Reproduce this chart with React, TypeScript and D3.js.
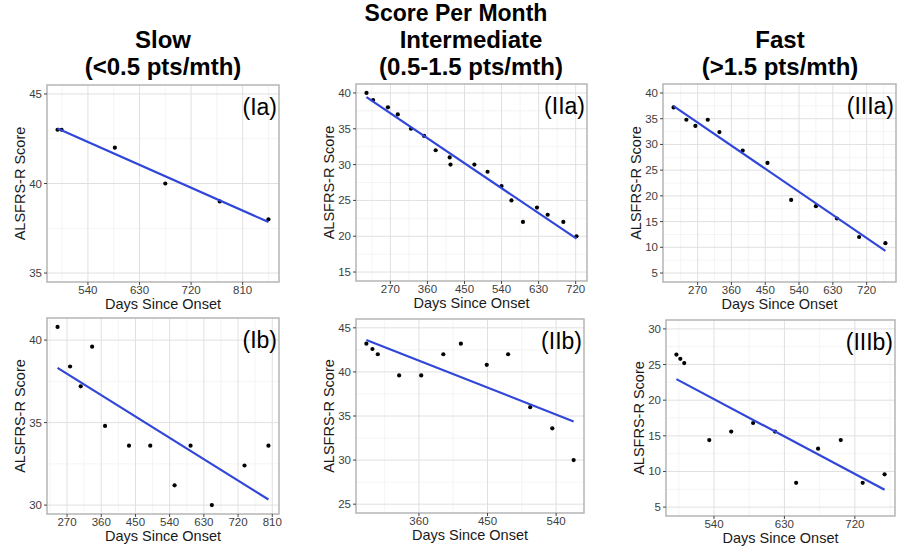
import React, { useRef, useEffect } from "react";
import * as d3 from "d3";

// (Ia) slow
const slowADays = [487, 494, 587, 675, 770, 855];
const slowAScores = [43, 43, 42, 40, 39, 38];
// (IIa) intermediate
const interADays = [212, 228, 264, 288, 320, 352, 380, 414, 416, 474, 506, 540, 564, 592, 626, 652, 690, 722];
const interAScores = [40, 39, 38, 37, 35, 34, 32, 31, 30, 30, 29, 27, 25, 22, 24, 23, 22, 20];
// (IIIa) fast
const fastADays = [206, 240, 264, 297, 328, 390, 456, 519, 585, 641, 700, 770];
const fastAScores = [37.2, 34.8, 33.6, 34.8, 32.4, 28.8, 26.4, 19.2, 18.0, 15.6, 12.0, 10.8];
// (Ib) slow
const slowBDays = [245, 278, 306, 336, 370, 433, 489, 553, 595, 651, 737, 800];
const slowBScores = [40.8, 38.4, 37.2, 39.6, 34.8, 33.6, 33.6, 31.2, 33.6, 30.0, 32.4, 33.6];
// (IIb) intermediate
const interBDays = [291, 299, 306, 334, 363, 392, 415, 449, 477, 506, 535, 563];
const interBScores = [43.2, 42.6, 42.0, 39.6, 39.6, 42.0, 43.2, 40.8, 42.0, 36.0, 33.6, 30.0];
// (IIIb) fast
const fastBDays = [492, 497, 502, 534, 562, 590, 618, 645, 673, 702, 730, 758];
const fastBScores = [26.4, 25.8, 25.2, 14.4, 15.6, 16.8, 15.6, 8.4, 13.2, 14.4, 8.4, 9.6];

// tick labels
const xTicksIa = [540, 630, 720, 810];
const xTicksIIa = [270, 360, 450, 540, 630, 720];
const xTicksIIIa = [270, 360, 450, 540, 630, 720];
const xTicksIb = [270, 360, 450, 540, 630, 720, 810];
const xTicksIIb = [360, 450, 540];
const xTicksIIIb = [540, 630, 720];
const yTicksIa = [35, 40, 45];
const yTicksIIa = [15, 20, 25, 30, 35, 40];
const yTicksIIIa = [5, 10, 15, 20, 25, 30, 35, 40];
const yTicksIb = [30, 35, 40];
const yTicksIIb = [25, 30, 35, 40, 45];
const yTicksIIIb = [5, 10, 15, 20, 25, 30];

const topTitle = "Score Per Month";
const columnTitles = [
  ["Slow", "(<0.5 pts/mth)"],
  ["Intermediate", "(0.5-1.5 pts/mth)"],
  ["Fast", "(>1.5 pts/mth)"],
];

const FONT = "'Liberation Sans', Arial, Helvetica, sans-serif";

export default function App() {
  const chartRef = useRef<SVGSVGElement>(null);

  useEffect(() => {
    draw();
  }, []);

  const draw = () => {
    const svg = d3.select(chartRef.current);
    svg.selectAll("*").remove();

    const panels = [
      { label: "(Ia)", days: slowADays, scores: slowAScores, xt: xTicksIa, yt: yTicksIa, ylim: [35, 45], box: [47, 279, 85, 282] },
      { label: "(IIa)", days: interADays, scores: interAScores, xt: xTicksIIa, yt: yTicksIIa, ylim: [15, 40], box: [356, 587, 84, 281] },
      { label: "(IIIa)", days: fastADays, scores: fastAScores, xt: xTicksIIIa, yt: yTicksIIIa, ylim: [5, 40], box: [663, 896, 84, 282] },
      { label: "(Ib)", days: slowBDays, scores: slowBScores, xt: xTicksIb, yt: yTicksIb, ylim: null, box: [47, 279, 318, 514] },
      { label: "(IIb)", days: interBDays, scores: interBScores, xt: xTicksIIb, yt: yTicksIIb, ylim: [25, 45], box: [356, 584, 319, 513] },
      { label: "(IIIb)", days: fastBDays, scores: fastBScores, xt: xTicksIIIb, yt: yTicksIIIb, ylim: [5, 30], box: [666, 895, 320, 516] },
    ];

    // headers
    const colCenters = [163, 471, 780];
    svg.append("text")
      .attr("x", 456).attr("y", 21)
      .attr("text-anchor", "middle")
      .attr("font-family", FONT).attr("font-weight", "bold").attr("font-size", 23)
      .text(topTitle);
    columnTitles.forEach((lines, i) => {
      lines.forEach((t, j) => {
        svg.append("text")
          .attr("x", colCenters[i]).attr("y", 48 + j * 27)
          .attr("text-anchor", "middle")
          .attr("font-family", FONT).attr("font-weight", "bold").attr("font-size", 24)
          .text(t);
      });
    });

    const expand = (lo: number, hi: number) => {
      const d = (hi - lo) * 0.05;
      return [lo - d, hi + d];
    };

    const minors = (ticks: number[], dom: number[]) => {
      const step = ticks[1] - ticks[0];
      const out: number[] = [];
      for (let v = ticks[0] - step / 2; v <= ticks[ticks.length - 1] + step / 2; v += step) {
        if (v >= dom[0] && v <= dom[1]) out.push(v);
      }
      return out;
    };

    panels.forEach((p) => {
      const [x0, x1, y0, y1] = p.box;
      const xd = expand(d3.min(p.days)!, d3.max(p.days)!);
      const yd = p.ylim ? expand(p.ylim[0], p.ylim[1]) : expand(d3.min(p.scores)!, d3.max(p.scores)!);
      const x = d3.scaleLinear().domain(xd).range([x0, x1]);
      const y = d3.scaleLinear().domain(yd).range([y1, y0]);

      const g = svg.append("g");

      g.append("rect")
        .attr("x", x0).attr("y", y0)
        .attr("width", x1 - x0).attr("height", y1 - y0)
        .attr("fill", "white");

      // minor grid
      minors(p.xt, xd).forEach((v) => {
        g.append("line").attr("x1", x(v)).attr("x2", x(v)).attr("y1", y0).attr("y2", y1)
          .attr("stroke", "#efefef").attr("stroke-width", 0.7);
      });
      minors(p.yt, yd).forEach((v) => {
        g.append("line").attr("x1", x0).attr("x2", x1).attr("y1", y(v)).attr("y2", y(v))
          .attr("stroke", "#efefef").attr("stroke-width", 0.7);
      });
      // major grid
      p.xt.forEach((v) => {
        g.append("line").attr("x1", x(v)).attr("x2", x(v)).attr("y1", y0).attr("y2", y1)
          .attr("stroke", "#e0e0e0").attr("stroke-width", 1);
      });
      p.yt.forEach((v) => {
        g.append("line").attr("x1", x0).attr("x2", x1).attr("y1", y(v)).attr("y2", y(v))
          .attr("stroke", "#e0e0e0").attr("stroke-width", 1);
      });

      // points
      p.days.forEach((d, i) => {
        g.append("circle")
          .attr("cx", x(d)).attr("cy", y(p.scores[i]))
          .attr("r", 2.1).attr("fill", "black");
      });

      // linear fit
      const mx = d3.mean(p.days)!;
      const my = d3.mean(p.scores)!;
      let sxy = 0, sxx = 0;
      p.days.forEach((d, i) => {
        sxy += (d - mx) * (p.scores[i] - my);
        sxx += (d - mx) * (d - mx);
      });
      const slope = sxy / sxx;
      const fit = [d3.min(p.days)!, d3.max(p.days)!].map((d) => [d, my + slope * (d - mx)]);
      const line = d3.line<number[]>().x((d) => x(d[0])).y((d) => y(d[1]));
      g.append("path")
        .datum(fit)
        .attr("d", line)
        .attr("fill", "none")
        .attr("stroke", "#3046d8")
        .attr("stroke-width", 2.2);

      // border
      g.append("rect")
        .attr("x", x0).attr("y", y0)
        .attr("width", x1 - x0).attr("height", y1 - y0)
        .attr("fill", "none").attr("stroke", "#b5b5b5").attr("stroke-width", 1.5);

      // x axis
      p.xt.forEach((v) => {
        g.append("line").attr("x1", x(v)).attr("x2", x(v)).attr("y1", y1).attr("y2", y1 + 3)
          .attr("stroke", "#444").attr("stroke-width", 1);
        g.append("text")
          .attr("x", x(v)).attr("y", y1 + 12)
          .attr("text-anchor", "middle")
          .attr("font-family", FONT).attr("font-size", 11.5).attr("fill", "#3d3d3d")
          .text(v);
      });
      // y axis
      p.yt.forEach((v) => {
        g.append("line").attr("x1", x0 - 3).attr("x2", x0).attr("y1", y(v)).attr("y2", y(v))
          .attr("stroke", "#444").attr("stroke-width", 1);
        g.append("text")
          .attr("x", x0 - 5).attr("y", y(v) + 4)
          .attr("text-anchor", "end")
          .attr("font-family", FONT).attr("font-size", 11.5).attr("fill", "#3d3d3d")
          .text(v);
      });

      // axis titles
      g.append("text")
        .attr("x", (x0 + x1) / 2).attr("y", y1 + 27)
        .attr("text-anchor", "middle")
        .attr("font-family", FONT).attr("font-size", 14.5).attr("fill", "#1a1a1a")
        .text("Days Since Onset");
      g.append("text")
        .attr("transform", `translate(${x0 - 22}, ${(y0 + y1) / 2}) rotate(-90)`)
        .attr("text-anchor", "middle")
        .attr("font-family", FONT).attr("font-size", 14.5).attr("fill", "#1a1a1a")
        .text("ALSFRS-R Score");

      // panel label
      g.append("text")
        .attr("x", x1 - 2).attr("y", y0 + 30)
        .attr("text-anchor", "end")
        .attr("font-family", FONT).attr("font-size", 23).attr("fill", "black")
        .text(p.label);
    });
  };

  return (
    <svg
      ref={chartRef}
      width={901}
      height={550}
      style={{ position: "absolute", left: 0, top: 0, background: "white" }}
    />
  );
}
